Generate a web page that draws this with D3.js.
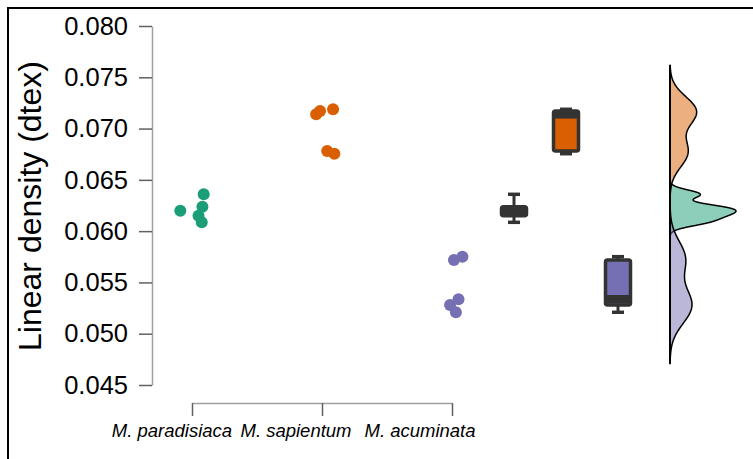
<!DOCTYPE html>
<html lang="en">
<head>
  <meta charset="UTF-8">
  <title>Linear density raincloud</title>
  <script src="https://cdn.jsdelivr.net/npm/d3@7"></script>
  <style>
    body { margin: 0; background: #fff; }
    text { font-family: "Liberation Sans", Arial, sans-serif; }
  </style>
</head>
<body>
<script>

// groups, in plotting order
var groups = ["M. paradisiaca", "M. sapientum", "M. acuminata"];
var colors = ["#1b9e77", "#d95f02", "#7570b3"];

// linear density (dtex), 5 fibres per group
var paradisiaca = [0.06199, 0.06359, 0.06238, 0.06151, 0.06086];
var sapientum   = [0.07139, 0.07171, 0.07188, 0.06781, 0.06755];
var acuminata   = [0.05719, 0.05751, 0.05280, 0.05336, 0.05209];

// horizontal jitter of each point, as a fraction of the group spacing
var jitterP = [-0.09, 0.09, 0.08, 0.05, 0.075];
var jitterS = [-0.045, -0.015, 0.085, 0.04, 0.095];
var jitterA = [0.015, 0.08, -0.015, 0.05, 0.03];

var yTicks = [0.045, 0.050, 0.055, 0.060, 0.065, 0.070, 0.075, 0.080];

var values = [paradisiaca, sapientum, acuminata];
var jitters = [jitterP, jitterS, jitterA];

var w = 753, h = 459;

var svg = d3.select("body").append("svg")
  .attr("width", w)
  .attr("height", h);

// frame (top and left only)
svg.append("path")
  .attr("d", "M8," + h + "V8H" + w)
  .attr("fill", "none")
  .attr("stroke", "#000")
  .attr("stroke-width", 2);

// scales
var yScale = d3.scaleLinear().domain([0.045, 0.080]).range([385, 26]);
var xScale = d3.scalePoint().domain(groups).range([192, 452]);
var boxScale = d3.scalePoint().domain(groups).range([514, 618]);
var labelScale = d3.scalePoint().domain(groups).range([172, 420]);
var step = xScale.step();

// y axis
var yAxis = d3.axisLeft(yScale)
  .tickValues(yTicks)
  .tickFormat(d3.format(".3f"))
  .tickSize(13)
  .tickSizeOuter(0)
  .tickPadding(11);

var gy = svg.append("g")
  .attr("transform", "translate(152,0)")
  .call(yAxis);
gy.select(".domain").attr("stroke", "#a0a0a0").attr("stroke-width", 1.5);
gy.selectAll(".tick line").attr("stroke", "#606060").attr("stroke-width", 1.5);
gy.selectAll(".tick text")
  .style("font-family", "'Liberation Sans', Arial, sans-serif")
  .style("font-size", "25.5px")
  .attr("fill", "#000");

// y title
svg.append("text")
  .attr("transform", "translate(41,206) rotate(-90)")
  .attr("text-anchor", "middle")
  .style("font-size", "32px")
  .text("Linear density (dtex)");

// x axis: ticks at the groups, labels laid out below
var xAxis = d3.axisBottom(xScale)
  .tickSize(13)
  .tickSizeOuter(0)
  .tickFormat("");

var gx = svg.append("g")
  .attr("transform", "translate(0,403)")
  .call(xAxis);
gx.select(".domain").attr("stroke", "#a0a0a0").attr("stroke-width", 1.5);
gx.selectAll(".tick line").attr("stroke", "#606060").attr("stroke-width", 1.5);

svg.selectAll("text.xlab")
  .data(groups)
  .enter()
  .append("text")
  .attr("class", "xlab")
  .attr("x", function(d) { return labelScale(d); })
  .attr("y", 437)
  .attr("text-anchor", "middle")
  .style("font-size", "18.5px")
  .style("font-style", "italic")
  .text(function(d) { return d; });

// points
groups.forEach(function(g, i) {
  svg.append("g")
    .selectAll("circle")
    .data(values[i])
    .enter()
    .append("circle")
    .attr("cx", function(d, j) { return xScale(g) + jitters[i][j] * step; })
    .attr("cy", function(d) { return yScale(d); })
    .attr("r", 6)
    .attr("fill", colors[i]);
});

// box plots
var boxW = 25;
groups.forEach(function(g, i) {
  var s = values[i].slice().sort(d3.ascending);
  var q1 = d3.quantile(s, 0.25), med = d3.quantile(s, 0.5), q3 = d3.quantile(s, 0.75);
  var iqr = q3 - q1;
  var lo = d3.min(s.filter(function(v) { return v >= q1 - 1.5 * iqr; }));
  var hi = d3.max(s.filter(function(v) { return v <= q3 + 1.5 * iqr; }));
  var cx = boxScale(g);
  var b = svg.append("g");

  b.append("line")
    .attr("x1", cx).attr("x2", cx)
    .attr("y1", yScale(hi)).attr("y2", yScale(q3))
    .attr("stroke", "#333").attr("stroke-width", 3);
  b.append("line")
    .attr("x1", cx).attr("x2", cx)
    .attr("y1", yScale(lo)).attr("y2", yScale(q1))
    .attr("stroke", "#333").attr("stroke-width", 3);
  [lo, hi].forEach(function(v) {
    b.append("line")
      .attr("x1", cx - 6).attr("x2", cx + 6)
      .attr("y1", yScale(v)).attr("y2", yScale(v))
      .attr("stroke", "#333").attr("stroke-width", 3.5);
  });

  b.append("rect")
    .attr("x", cx - boxW / 2)
    .attr("y", yScale(q3))
    .attr("width", boxW)
    .attr("height", yScale(q1) - yScale(q3))
    .attr("rx", 2)
    .attr("fill", colors[i])
    .attr("stroke", "#333")
    .attr("stroke-width", 3.5);

  b.append("line")
    .attr("x1", cx - boxW / 2).attr("x2", cx + boxW / 2)
    .attr("y1", yScale(med)).attr("y2", yScale(med))
    .attr("stroke", "#333").attr("stroke-width", 8.5);
});

// kernel densities (gaussian, R's bw.nrd0, cut = 3)
function nrd0(s) {
  var sd = d3.deviation(s);
  var iqr = d3.quantile(s, 0.75) - d3.quantile(s, 0.25);
  return 0.9 * Math.min(sd, iqr / 1.34) * Math.pow(s.length, -0.2);
}

var dens = values.map(function(v) {
  var s = v.slice().sort(d3.ascending);
  var bw = nrd0(s);
  var from = s[0] - 3 * bw, to = s[s.length - 1] + 3 * bw;
  var pts = d3.range(512).map(function(k) {
    var x = from + (to - from) * k / 511;
    var f = d3.sum(s, function(xi) {
      var u = (x - xi) / bw;
      return Math.exp(-0.5 * u * u);
    }) / (s.length * bw * Math.sqrt(2 * Math.PI));
    return [x, f];
  });
  return pts;
});

var maxDens = d3.max(dens, function(p) { return d3.max(p, function(d) { return d[1]; }); });
var densScale = d3.scaleLinear().domain([0, maxDens]).range([670, 736]);

var area = d3.area()
  .y(function(d) { return yScale(d[0]); })
  .x0(densScale(0))
  .x1(function(d) { return densScale(d[1]); });

dens.forEach(function(p, i) {
  svg.append("path")
    .datum(p)
    .attr("d", area)
    .attr("fill", colors[i])
    .attr("fill-opacity", 0.5)
    .attr("stroke", "#000")
    .attr("stroke-width", 1.5)
    .attr("stroke-linejoin", "round");
});

var allLo = d3.min(dens, function(p) { return p[0][0]; });
var allHi = d3.max(dens, function(p) { return p[p.length - 1][0]; });
svg.append("line")
  .attr("x1", densScale(0)).attr("x2", densScale(0))
  .attr("y1", yScale(allHi)).attr("y2", yScale(allLo))
  .attr("stroke", "#000")
  .attr("stroke-width", 2);

</script>
</body>
</html>
